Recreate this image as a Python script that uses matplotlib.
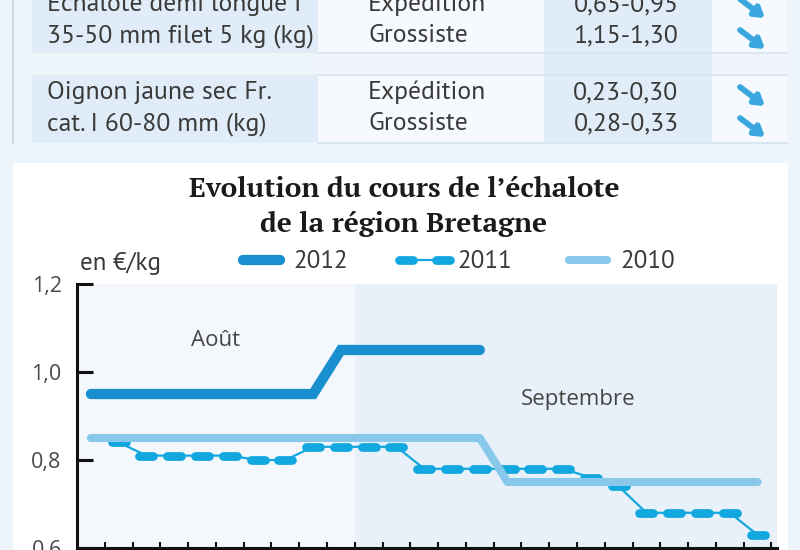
import matplotlib
matplotlib.use("Agg")
import numpy as np
import matplotlib.pyplot as plt
from matplotlib.patches import Rectangle
from matplotlib.lines import Line2D
from matplotlib.markers import MarkerStyle
from matplotlib.font_manager import FontProperties

# ---------------- data ----------------
prix_2012 = [0.95, 0.95, 0.95, 0.95, 0.95, 0.95, 0.95, 0.95, 0.95,
             1.05, 1.05, 1.05, 1.05, 1.05, 1.05]
prix_2011 = [np.nan, 0.84, 0.81, 0.81, 0.81, 0.81, 0.80, 0.80, 0.83, 0.83,
             0.83, 0.83, 0.78, 0.78, 0.78, 0.78, 0.78, 0.78, 0.76, 0.74,
             0.68, 0.68, 0.68, 0.68, 0.63]
prix_2010 = [0.85, 0.85, 0.85, 0.85, 0.85, 0.85, 0.85, 0.85, 0.85, 0.85,
             0.85, 0.85, 0.85, 0.85, 0.85, 0.75, 0.75, 0.75, 0.75, 0.75,
             0.75, 0.75, 0.75, 0.75, 0.75]
n_jours = 25
jours_aout = 10
series_labels = ["2012", "2011", "2010"]
yticks = [0.6, 0.8, 1.0, 1.2]
ytick_labels = ["0,6", "0,8", "1,0", "1,2"]
mois = ["Août", "Septembre"]

table_produits = [["Echalote demi longue I", "35-50 mm filet 5 kg (kg)"],
                  ["Oignon jaune sec Fr.", "cat. I 60-80 mm (kg)"]]
table_stades = [["Expédition", "Grossiste"], ["Expédition", "Grossiste"]]
table_prix = [["0,65-0,95", "1,15-1,30"], ["0,23-0,30", "0,28-0,33"]]

title_lines = ["Evolution du cours de l\u2019échalote", "de la région Bretagne"]
unit_label = "en €/kg"

# ---------------- style ----------------
W, H = 800, 550
BG = "#edf4fa"
CELL = "#e0edf8"
C2012 = "#1a8fd0"
C2011 = "#12a7de"
C2010 = "#88c9eb"
TXT = "#3a3a3a"
TFONT = "PT Sans"
SANS = "Open Sans"


def fx(px):
    return px / W


def fy(py):
    return 1 - py / H


fig = plt.figure(figsize=(W / 100, H / 100), dpi=100, facecolor=BG)


def rect(x0, y0, x1, y1, color, z=-5):
    fig.add_artist(Rectangle((fx(x0), fy(y1)), (x1 - x0) / W, (y1 - y0) / H,
                             transform=fig.transFigure, facecolor=color,
                             edgecolor="none", zorder=z))


def hline(x0, x1, y, color, lw=1.2):
    fig.add_artist(Line2D([fx(x0), fx(x1)], [fy(y), fy(y)],
                          transform=fig.transFigure, color=color, lw=lw, zorder=-4))


# ---------------- price table (top) ----------------
rect(318, 0, 787, 143, "#f6f9fd")
rect(318, 53, 787, 75, "#eff5fb")
rect(32, 0, 318, 53, CELL)
rect(32, 75, 318, 143, CELL)
rect(544, 0, 712, 143, CELL, z=-4.5)
for yy in (53, 75, 143):
    hline(318, 787, yy, "#d6e4ef")
fig.add_artist(Line2D([fx(13), fx(13)], [fy(0), fy(143)], transform=fig.transFigure,
                      color="#c3d2de", lw=1.2, zorder=-4))

row_base = [[11, 42], [99, 130]]
tfont = FontProperties(family=TFONT, size=18.5)
for r in range(2):
    for k in range(2):
        yb = row_base[r][k]
        fig.text(fx(47), fy(yb), table_produits[r][k], fontproperties=tfont,
                 color=TXT, va="baseline", ha="left")
        fig.text(fx(368), fy(yb), table_stades[r][k], fontproperties=tfont,
                 color=TXT, va="baseline", ha="left")
        fig.text(fx(626), fy(yb), table_prix[r][k], fontproperties=tfont,
                 color=TXT, va="baseline", ha="center")
        yc = yb - 3
        fig.add_artist(plt.Annotation("", xy=(765, H - (yc + 10)), xytext=(740, H - (yc - 9)),
                                      xycoords="figure pixels", textcoords="figure pixels",
                                      arrowprops=dict(arrowstyle="-|>,head_length=0.55,head_width=0.35",
                                                      lw=4.2, color="#3aa8de",
                                                      shrinkA=0, shrinkB=0)))

# ---------------- chart panel ----------------
rect(13, 163, 788, 551, "#ffffff")

for i, line in enumerate(title_lines):
    fig.text(fx(404), fy(197 + 35 * i), line, family="PT Serif", weight="bold",
             size=20.2, color="#1a1a1a", ha="center", va="baseline")
fig.text(fx(80), fy(270), unit_label, family=TFONT, size=18, color=TXT,
         ha="left", va="baseline")

ax = fig.add_axes([fx(77), fy(548), 700 / W, 264 / H])
ax.set_facecolor("#f4f8fc")
ax.set_xlim(0, 25.2)
ax.set_ylim(0.6, 1.2)
ax.axvspan(jours_aout, 25.2, color="#e8f1f9", zorder=0, lw=0)

x12 = np.arange(len(prix_2012)) + 0.5
x11 = np.arange(len(prix_2011)) + 0.5
x10 = np.arange(len(prix_2010)) + 0.5

dash_marker = MarkerStyle("_", capstyle="round")
ax.plot(x11, prix_2011, color=C2011, lw=1.6, zorder=2)
ax.plot(x11, prix_2011, ls="none", marker=dash_marker, ms=10, mew=6.3,
        color=C2011, zorder=2.1)
ax.plot(x10, prix_2010, color=C2010, lw=5.8, solid_capstyle="round",
        solid_joinstyle="round", zorder=3)
ax.plot(x12, prix_2012, color=C2012, lw=7.4, solid_capstyle="round",
        solid_joinstyle="miter", zorder=4)

ax.text(5.0, 1.059, mois[0], family=SANS, size=16, color="#454545",
        ha="center", va="baseline")
ax.text(18.05, 0.925, mois[1], family=SANS, size=16, color="#454545",
        ha="center", va="baseline")

for s in ("top", "right"):
    ax.spines[s].set_visible(False)
for s in ("left", "bottom"):
    ax.spines[s].set_linewidth(2.2)
    ax.spines[s].set_color("#111111")
ax.set_yticks(yticks)
ax.set_yticklabels(ytick_labels, family=SANS, size=15.5, color="#4a4a4a")
ax.set_xticks(np.arange(1, n_jours + 1))
ax.set_xticklabels([])
ax.tick_params(axis="y", direction="in", length=11.5, width=2.2, pad=11,
               color="#111111")
ax.tick_params(axis="x", direction="in", length=4.5, width=1.5, color="#111111")

# ---------------- legend ----------------
h12 = Line2D([], [], color=C2012, lw=7.4, solid_capstyle="round")
h11a = Line2D([], [], color=C2011, lw=1.6)
h11b = Line2D([], [], ls="none", marker=dash_marker, ms=10, mew=6.3, color=C2011)
h10 = Line2D([], [], color=C2010, lw=5.8, solid_capstyle="round")
leg = fig.legend([h12, (h11a, h11b), h10], series_labels, loc="center left",
                 bbox_to_anchor=(fx(235), fy(262)), ncol=3, frameon=False,
                 borderpad=0, borderaxespad=0, handlelength=2.1,
                 handletextpad=0.25, columnspacing=2.0, numpoints=2,
                 prop=FontProperties(family=TFONT, size=18))
for t in leg.get_texts():
    t.set_color(TXT)

fig.savefig("out.png", dpi=100, facecolor=BG)
